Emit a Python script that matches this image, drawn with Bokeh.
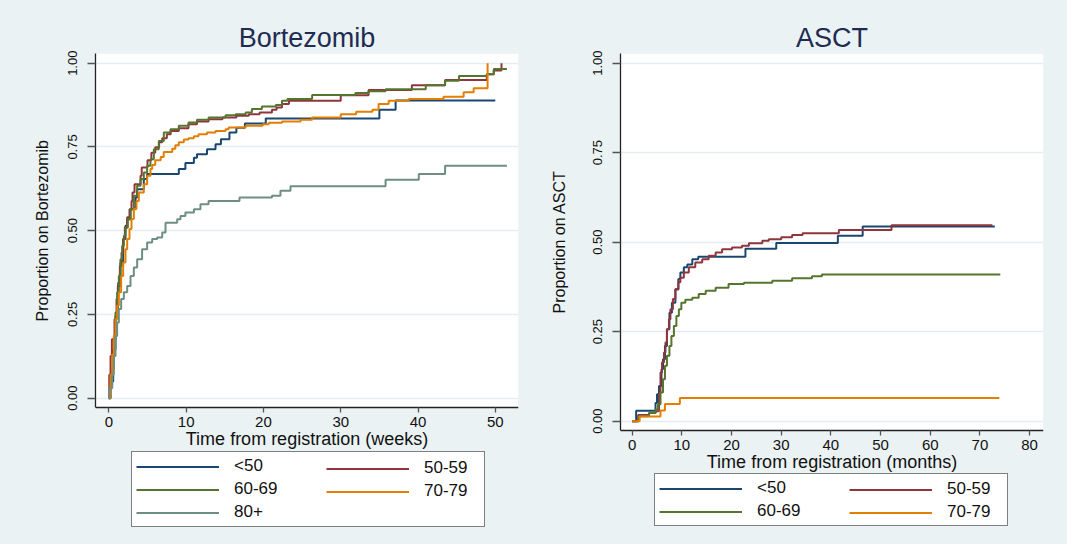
from bokeh.plotting import figure
from bokeh.models import (Range1d, Legend, LegendItem, FixedTicker, LinearAxis, Title,
                          NumeralTickFormatter, ColumnDataSource, BoxAnnotation)
from bokeh.layouts import row
from bokeh.embed import file_html
from bokeh.resources import INLINE

# ---------------- data ----------------
age_groups = ["<50", "50-59", "60-69", "70-79", "80+"]

# Bortezomib panel: time (weeks) and cumulative proportion
btz_lt50_t = [0, 0.21, 0.56, 0.86, 1.16, 1.5, 1.85, 2.15, 2.37, 2.8, 3.45, 3.66, 4.52, 4.95,
              9.05, 9.9, 11.0, 11.4, 12.7, 13.8, 14.5, 15.6, 16.5, 17.6, 20.3, 35.0, 37.1, 50.0]
btz_lt50_p = [0, 0.05, 0.146, 0.246, 0.335, 0.405, 0.475, 0.515, 0.534, 0.564, 0.599, 0.624, 0.654, 0.669,
              0.684, 0.702, 0.718, 0.728, 0.743, 0.758, 0.773, 0.793, 0.807, 0.82, 0.835, 0.861, 0.889, 0.889]

btz_5059_t = [0, 0.05, 0.22, 0.39, 0.73, 0.99, 1.2, 1.42, 1.64, 1.85, 2.07, 2.37, 2.67, 2.93, 3.06,
              3.32, 4.1, 4.25, 5.0, 5.5, 6.0, 6.5, 6.9, 7.5, 8.0, 9.05, 10.3, 11.4, 12.9, 14.7, 16.5,
              18.1, 19.5, 21.1, 21.7, 22.4, 23.3, 30.0, 33.6, 39.2, 43.5, 48.9, 49.8, 50.8]
btz_5059_p = [0, 0.07, 0.126, 0.176, 0.236, 0.296, 0.345, 0.395, 0.435, 0.475, 0.51, 0.54, 0.564, 0.589, 0.614,
              0.639, 0.664, 0.689, 0.71, 0.733, 0.749, 0.764, 0.776, 0.788, 0.798, 0.806, 0.818, 0.826, 0.833, 0.838, 0.843,
              0.848, 0.853, 0.861, 0.868, 0.878, 0.888, 0.904, 0.92, 0.934, 0.95, 0.967, 0.978, 1.0]

btz_6069_t = [0, 0.2, 0.43, 0.64, 0.86, 1.07, 1.29, 1.5, 1.72, 1.94, 2.15, 2.45, 2.8, 3.23, 3.66, 4.1,
              4.52, 4.95, 5.38, 5.82, 6.46, 7.11, 7.97, 9.05, 10.3, 11.4, 12.9, 15.1, 16.4, 17.7, 18.5,
              19.8, 21.6, 22.4, 23.1, 26.3, 31.9, 33.6, 35.8, 41.0, 43.5, 45.3, 48.9, 49.8, 51.5]
btz_6069_p = [0, 0.04, 0.087, 0.176, 0.256, 0.316, 0.365, 0.415, 0.455, 0.485, 0.509, 0.534, 0.564, 0.604, 0.634, 0.654,
              0.674, 0.694, 0.713, 0.743, 0.768, 0.793, 0.803, 0.813, 0.823, 0.831, 0.838, 0.845, 0.848, 0.853, 0.863,
              0.871, 0.875, 0.888, 0.893, 0.905, 0.911, 0.916, 0.922, 0.934, 0.948, 0.962, 0.967, 0.983, 0.983]

btz_7079_t = [0, 0.21, 0.43, 0.64, 0.86, 1.07, 1.29, 1.59, 1.85, 2.15, 2.37, 2.67, 2.93, 3.23, 3.57, 3.88,
              4.52, 4.95, 5.38, 5.6, 6.0, 6.7, 7.1, 8.2, 8.6, 9.05, 9.7, 10.3, 11.0, 11.6, 12.7, 13.8, 15.1,
              15.5, 17.7, 19.9, 20.7, 22.4, 24.8, 26.3, 30.0, 32.0, 34.1, 34.9, 36.2, 38.8, 43.3, 45.9, 47.2, 49.0]
btz_7079_p = [0, 0.07, 0.13, 0.187, 0.236, 0.276, 0.316, 0.365, 0.405, 0.445, 0.475, 0.505, 0.535, 0.565, 0.589, 0.614,
              0.639, 0.664, 0.684, 0.696, 0.71, 0.72, 0.735, 0.745, 0.755, 0.764, 0.772, 0.776, 0.782, 0.788, 0.793, 0.798, 0.803,
              0.808, 0.813, 0.818, 0.822, 0.826, 0.831, 0.838, 0.848, 0.855, 0.861, 0.878, 0.888, 0.893, 0.900, 0.913, 0.925, 1.0]

btz_80_t = [0, 0.1, 0.43, 0.64, 0.86, 1.07, 1.29, 1.59, 1.94, 2.37, 2.8, 3.23, 3.66, 4.3, 4.95, 5.6,
            6.25, 6.9, 7.33, 8.84, 9.27, 9.9, 11.0, 11.85, 12.9, 16.9, 21.1, 22.2, 23.5, 35.8, 40.1, 43.5, 51.5]
btz_80_p = [0, 0.03, 0.07, 0.126, 0.186, 0.226, 0.266, 0.296, 0.316, 0.335, 0.365, 0.39, 0.415, 0.445, 0.465, 0.475,
            0.48, 0.495, 0.524, 0.534, 0.544, 0.554, 0.564, 0.579, 0.589, 0.599, 0.604, 0.619, 0.633, 0.652, 0.669, 0.694, 0.694]

# ASCT panel: time (months) and cumulative proportion
asct_lt50_t = [0, 0.8, 4.7, 5.0, 5.4, 5.9, 6.2, 6.6, 7.0, 7.5, 8.0, 8.7, 9.3, 9.7, 10.4, 11.1, 12.1,
               13.3, 22.8, 29.0, 41.4, 46.4, 73.0]
asct_lt50_p = [0, 0.029, 0.051, 0.075, 0.098, 0.145, 0.173, 0.21, 0.257, 0.303, 0.331, 0.368, 0.397, 0.415, 0.43, 0.438, 0.452,
               0.459, 0.482, 0.498, 0.518, 0.544, 0.544]

asct_5059_t = [0, 1.2, 3.4, 4.7, 5.4, 5.7, 6.0, 6.4, 6.7, 7.0, 7.4, 7.7, 8.2, 8.7, 9.3, 9.7, 10.4, 11.4,
               12.7, 14.1, 15.4, 16.8, 18.1, 20.1, 22.1, 23.5, 26.2, 27.5, 30.0, 32.2, 34.3, 41.6, 52.2, 72.5]
asct_5059_p = [0, 0.017, 0.023, 0.028, 0.080, 0.136, 0.164, 0.192, 0.22, 0.257, 0.285, 0.313, 0.341, 0.369, 0.388, 0.401, 0.415, 0.43,
               0.443, 0.452, 0.462, 0.471, 0.48, 0.485, 0.49, 0.497, 0.504, 0.508, 0.514, 0.52, 0.525, 0.534, 0.547, 0.547]

asct_6069_t = [0, 1.3, 3.4, 4.7, 5.2, 5.7, 6.2, 6.6, 7.0, 7.5, 7.9, 8.4, 8.9, 9.4, 9.9, 10.7, 12.1, 13.4,
               14.8, 16.8, 19.4, 22.5, 28.2, 32.2, 36.2, 38.2, 74.1]
asct_6069_p = [0, 0.014, 0.023, 0.033, 0.047, 0.08, 0.117, 0.155, 0.183, 0.21, 0.238, 0.266, 0.294, 0.313, 0.331, 0.339, 0.345, 0.355,
               0.364, 0.373, 0.383, 0.387, 0.392, 0.399, 0.405, 0.41, 0.41]

asct_7079_t = [0, 1.5, 5.7, 6.6, 9.6, 73.9]
asct_7079_p = [0, 0.013, 0.03, 0.048, 0.065, 0.065]

y_ticks = [0, 0.25, 0.5, 0.75, 1.0]
btz_x_ticks = [0, 10, 20, 30, 40, 50]
asct_x_ticks = [0, 10, 20, 30, 40, 50, 60, 70, 80]

# ---------------- styling ----------------
BG = "#EAF2F3"
FONT = "Liberation Sans"
TITLE_COLOR = "#1E2B53"
COLORS = {"<50": "#1A476F", "50-59": "#90353B", "60-69": "#55752F",
          "70-79": "#E37E00", "80+": "#6E8E84"}


def make_fig(title, width, height, left, right, top, xr, yr, y_axis_at):
    p = figure(width=width, height=height, output_backend="svg", toolbar_location=None,
               x_range=Range1d(*xr), y_range=Range1d(*yr), x_axis_location=None,
               min_border_left=left, min_border_right=right,
               min_border_top=top, min_border_bottom=0)
    p.title.text = title
    p.title.align = "center"
    p.title.text_font = FONT
    p.title.text_font_size = "27px"
    p.title.text_font_style = "normal"
    p.title.text_color = TITLE_COLOR
    p.title.standoff = 1
    # frame is extended below the x axis to hold the legend; the plotting area is white
    p.background_fill_color = BG
    p.border_fill_color = BG
    p.outline_line_color = None
    p.add_layout(BoxAnnotation(bottom=y_axis_at, fill_color="white", fill_alpha=1,
                               line_color=None, level="image"))
    p.xgrid.grid_line_color = None
    p.ygrid.grid_line_color = "#E4EDEF"
    p.ygrid.grid_line_width = 1.5
    p.ygrid.ticker = FixedTicker(ticks=y_ticks)
    return p


def style_axes(p, xticks, xlabel, ylabel, ylab_standoff, ylab_offset, y_axis_at):
    xa = LinearAxis(fixed_location=y_axis_at)
    p.add_layout(xa, "below")
    ya = p.yaxis[0]
    xa.ticker = FixedTicker(ticks=xticks)
    ya.ticker = FixedTicker(ticks=y_ticks)
    ya.formatter = NumeralTickFormatter(format="0.00")
    ya.bounds = (y_axis_at, p.y_range.end)
    for ax in (xa, ya):
        ax.axis_line_color = "#222222"
        ax.axis_line_width = 1.3
        ax.major_tick_line_color = "#555555"
        ax.major_tick_line_width = 1.3
        ax.major_tick_in = 0
        ax.minor_tick_line_color = None
        ax.major_label_text_font = FONT
        ax.major_label_text_color = "#111111"
        ax.axis_label_text_font = FONT
        ax.axis_label_text_font_style = "normal"
        ax.axis_label_text_color = "#111111"
    xa.major_tick_out = 5
    xa.major_label_standoff = 5
    xa.major_label_text_font_size = "15px"
    xa.axis_label = xlabel
    xa.axis_label_text_font_size = "18px"
    xa.axis_label_standoff = -2
    ya.major_tick_out = 8
    ya.major_label_standoff = 10
    ya.major_label_orientation = "vertical"
    ya.major_label_text_font_size = "13px"
    # y-axis title, centred on the plotting area (not on the legend strip)
    p.add_layout(Title(text=ylabel, align="left", offset=ylab_offset, standoff=ylab_standoff,
                       text_font=FONT, text_font_size="16px", text_font_style="normal",
                       text_color="#111111"), "left")


def add_legend(p, items, x, y, framed):
    lg = Legend(items=items, location=(x, y), orientation="vertical",
                padding=4, spacing=3, margin=0,
                glyph_width=83, glyph_height=19, label_height=19,
                label_width=246 if framed else 60, label_standoff=15,
                label_text_font=FONT, label_text_font_size="17px",
                label_text_color="#111111",
                border_line_color="black", border_line_width=1,
                background_fill_color="white")
    if framed:
        lg.background_fill_alpha = 1
    else:
        lg.border_line_alpha = 0
        lg.background_fill_alpha = 0
    p.add_layout(lg, "center")


def draw(p, series):
    rends = {}
    for name, t, v in series:
        src = ColumnDataSource(dict(t=t, v=v))
        rends[name] = p.step(x="t", y="v", source=src, mode="after",
                             line_color=COLORS[name], line_width=2)
    return rends


# ---------------- left panel: Bortezomib ----------------
BTZ_AXIS_Y = -0.027
p1 = make_fig("Bortezomib", 525, 544, 95, 7, 53, (-1.73, 53.0), (-0.4367, 1.029), BTZ_AXIS_Y)
r1 = draw(p1, [("<50", btz_lt50_t, btz_lt50_p),
               ("50-59", btz_5059_t, btz_5059_p),
               ("60-69", btz_6069_t, btz_6069_p),
               ("70-79", btz_7079_t, btz_7079_p),
               ("80+", btz_80_t, btz_80_p)])
style_axes(p1, btz_x_ticks, "Time from registration (weeks)", "Proportion on Bortezomib",
           30, 223, BTZ_AXIS_Y)
add_legend(p1, [LegendItem(label=g, renderers=[r1[g]]) for g in ["<50", "60-69", "80+"]],
           36, 17, True)
add_legend(p1, [LegendItem(label=g, renderers=[r1[g]]) for g in ["50-59", "70-79"]],
           227, 39, False)

# ---------------- right panel: ASCT ----------------
ASCT_AXIS_Y = -0.0251
p2 = make_fig("ASCT", 542, 544, 95, 24, 53, (-2.35, 82.8), (-0.3444, 1.027), ASCT_AXIS_Y)
r2 = draw(p2, [("<50", asct_lt50_t, asct_lt50_p),
               ("50-59", asct_5059_t, asct_5059_p),
               ("60-69", asct_6069_t, asct_6069_p),
               ("70-79", asct_7079_t, asct_7079_p)])
style_axes(p2, asct_x_ticks, "Time from registration (months)", "Proportion on ASCT",
           45, 231, ASCT_AXIS_Y)
add_legend(p2, [LegendItem(label=g, renderers=[r2[g]]) for g in ["<50", "60-69"]],
           34, 18, True)
add_legend(p2, [LegendItem(label=g, renderers=[r2[g]]) for g in ["50-59", "70-79"]],
           225, 18, False)

layout = row(p1, p2, styles={"background-color": BG})
open("out.html", "w").write(file_html(layout, INLINE))
